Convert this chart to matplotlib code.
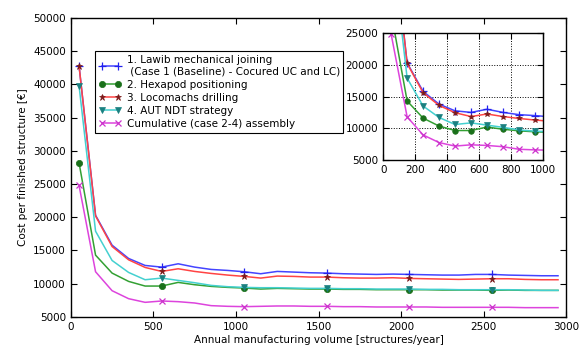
import matplotlib
matplotlib.use("Agg")
import matplotlib.pyplot as plt

volume = list(range(50, 3000, 100))

lawib = [42800, 20300, 15800, 13800, 12750, 12500, 13000, 12500, 12150, 12000,
         11800, 11500, 11850, 11750, 11650, 11600, 11500, 11450, 11400, 11450,
         11400, 11350, 11300, 11300, 11400, 11400, 11300, 11250, 11200, 11200]
hexapod = [28200, 14300, 11600, 10350, 9650, 9650, 10200, 9850, 9600, 9450,
           9350, 9200, 9300, 9250, 9200, 9200, 9150, 9150, 9100, 9100,
           9100, 9100, 9050, 9050, 9050, 9000, 9050, 9000, 9000, 9000]
locomachs = [42800, 20200, 15600, 13600, 12450, 11850, 12250, 11850, 11550, 11300,
             11100, 10850, 11150, 11100, 11000, 11000, 10900, 10850, 10850, 10900,
             10800, 10750, 10700, 10650, 10700, 10750, 10750, 10650, 10600, 10600]
aut_ndt = [39800, 17900, 13500, 11700, 10600, 10850, 10500, 10150, 9750, 9550,
           9450, 9400, 9400, 9350, 9300, 9300, 9250, 9250, 9200, 9200,
           9200, 9150, 9150, 9100, 9100, 9100, 9100, 9050, 9000, 9000]
cumulative = [24800, 11800, 8950, 7750, 7200, 7400, 7300, 7100, 6700, 6600,
              6550, 6600, 6650, 6650, 6600, 6600, 6550, 6550, 6500, 6500,
              6500, 6500, 6450, 6450, 6450, 6450, 6450, 6400, 6400, 6400]

labels = ["1. Lawib mechanical joining\n (Case 1 (Baseline) - Cocured UC and LC)",
          "2. Hexapod positioning",
          "3. Locomachs drilling",
          "4. AUT NDT strategy",
          "Cumulative (case 2-4) assembly"]

series = [lawib, hexapod, locomachs, aut_ndt, cumulative]
styles = [
    dict(color="#4444ff", marker="+", mfc="#2222ee", mec="#2222ee", ms=6, mew=0.9),
    dict(color="#33a033", marker="o", mfc="#1a701a", mec="#1a701a", ms=4.5, mew=0.5),
    dict(color="#ff4444", marker="*", mfc="#7a1a1a", mec="#7a1a1a", ms=4.5, mew=0.5),
    dict(color="#44d0d0", marker="v", mfc="#1a8080", mec="#1a8080", ms=4.5, mew=0.5),
    dict(color="#dd44dd", marker="x", mfc="#cc33cc", mec="#cc33cc", ms=4.5, mew=0.9),
]

plt.rcParams["font.family"] = "DejaVu Sans"
plt.rcParams["font.size"] = 7.5
plt.rcParams["xtick.direction"] = "in"
plt.rcParams["ytick.direction"] = "in"

fig = plt.figure(figsize=(5.85, 3.51), dpi=100)
ax = fig.add_axes([0.121, 0.097, 0.847, 0.852])

for vals, lab, st in zip(series, labels, styles):
    ax.plot(volume, vals, label=lab, lw=1.1, markevery=5, **st)

ax.set_xlim(0, 3000)
ax.set_ylim(5000, 50000)
ax.set_xticks(range(0, 3001, 500))
ax.set_yticks(range(5000, 50001, 5000))
ax.tick_params(top=True, right=True, length=4, width=0.8)
for s in ax.spines.values():
    s.set_linewidth(1.0)
ax.set_xlabel("Annual manufacturing volume [structures/year]", labelpad=2)
ax.set_ylabel("Cost per finished structure [€]", labelpad=4)

leg = ax.legend(loc="upper left", bbox_to_anchor=(0.038, 0.906), fancybox=False,
                edgecolor="black", framealpha=1, borderpad=0.35, labelspacing=0.3,
                handlelength=2.2, handletextpad=0.5, numpoints=2)
leg.get_frame().set_linewidth(0.8)

ins = fig.add_axes([0.655, 0.544, 0.273, 0.362])
for vals, st in zip(series, styles):
    st_small = dict(st, ms=st["ms"] - 0.5)
    ins.plot(volume, vals, lw=1.1, markevery=1, **st_small)
ins.set_xlim(0, 1000)
ins.set_ylim(5000, 25000)
ins.set_xticks(range(0, 1001, 200))
ins.set_yticks(range(5000, 25001, 5000))
ins.grid(True, ls=":", color="black", lw=0.7)
ins.tick_params(top=True, right=True, length=4, width=0.8)
for s in ins.spines.values():
    s.set_linewidth(1.0)

fig.savefig("out.png", dpi=100, facecolor="white")
